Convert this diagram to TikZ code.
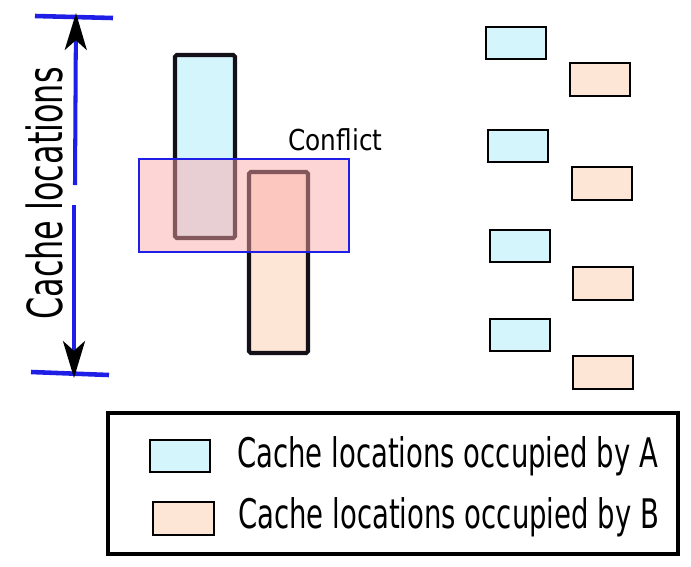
\documentclass[tikz,border=0pt]{standalone}
\usepackage{fontspec}
\usetikzlibrary{arrows.meta}
\newfontfamily\sidefont[FakeStretch=0.66]{DejaVu Sans}
\newfontfamily\keyfont[FakeStretch=0.675]{DejaVu Sans}
\newfontfamily\tagfont[FakeStretch=0.86]{DejaVu Sans}
\definecolor{fillA}{RGB}{213,245,253}
\definecolor{fillB}{RGB}{254,230,214}
\definecolor{tickblue}{RGB}{30,30,230}
\definecolor{edgedark}{RGB}{20,16,24}
\definecolor{clash}{RGB}{251,167,167}
\tikzset{
  tick/.style={line width=2.6pt, color=tickblue},
  span/.style={line width=2.3pt, color=tickblue, -{Stealth[length=21pt, width=12.5pt, inset=5.5pt, black]}},
  tallA/.style={line width=2.3pt, draw=edgedark, fill=fillA, rounded corners=1pt},
  tallB/.style={line width=2.3pt, draw=edgedark, fill=fillB, rounded corners=1pt},
  clashbox/.style={draw=tickblue, line width=0.6pt, fill=clash, fill opacity=0.48},
  cellA/.style={line width=1.1pt, draw=black, fill=fillA},
  cellB/.style={line width=1.1pt, draw=black, fill=fillB}
}
\begin{document}
\begin{tikzpicture}[x=0.02cm, y=-0.02cm]
			\useasboundingbox (0, 0) rectangle (691, 566);
			%%%%% START %%%%%
			
			\draw[tick] (35, 16) -- (113, 18);
			\draw[tick] (31, 372) -- (109, 375);
			
			\coordinate (upstart) at (75, 185);
			\coordinate (uptip) at (76, 13);
			\coordinate (downstart) at (74, 205);
			\coordinate (downtip) at (74, 378);
			\draw[span] (upstart) -- (uptip);
			\draw[span] (downstart) -- (downtip);
			
			\node[rotate=90, anchor=base, inner sep=0, font=\sidefont\fontsize{27.5pt}{30pt}\selectfont] (sidelabel) at (63, 193.5) {Cache locations};
			
			\draw[tallA] (175, 55) rectangle (235, 238);
			\draw[tallB] (249, 172) rectangle (308, 353);
			\draw[clashbox] (139, 159) rectangle (349, 252);
			
			\node[anchor=base west, inner sep=0, font=\tagfont\fontsize{16.4pt}{18pt}\selectfont] (clashlabel) at (288, 150) {Conflict};
			
			\foreach \xa/\ya/\xb/\yb in {486/27/570/63, 488/130/572/167, 490/230/573/267, 490/319/573/356}{
				\draw[cellA] (\xa, \ya) rectangle ++(60, 32);
				\draw[cellB] (\xb, \yb) rectangle ++(60, 33);
			}
			
			\draw[line width=2.8pt] (108, 413) rectangle (678, 554);
			\draw[cellA] (150, 440) rectangle (210, 472);
			\draw[cellB] (153, 502) rectangle (214, 535);
			\node[anchor=base west, inner sep=0, font=\keyfont\fontsize{23.2pt}{26pt}\selectfont] (keyA) at (237, 467) {Cache locations occupied by A};
			\node[anchor=base west, inner sep=0, font=\keyfont\fontsize{23.2pt}{26pt}\selectfont] (keyB) at (238, 528) {Cache locations occupied by B};
			
			%%%%% END %%%%%
\end{tikzpicture}
\end{document}
